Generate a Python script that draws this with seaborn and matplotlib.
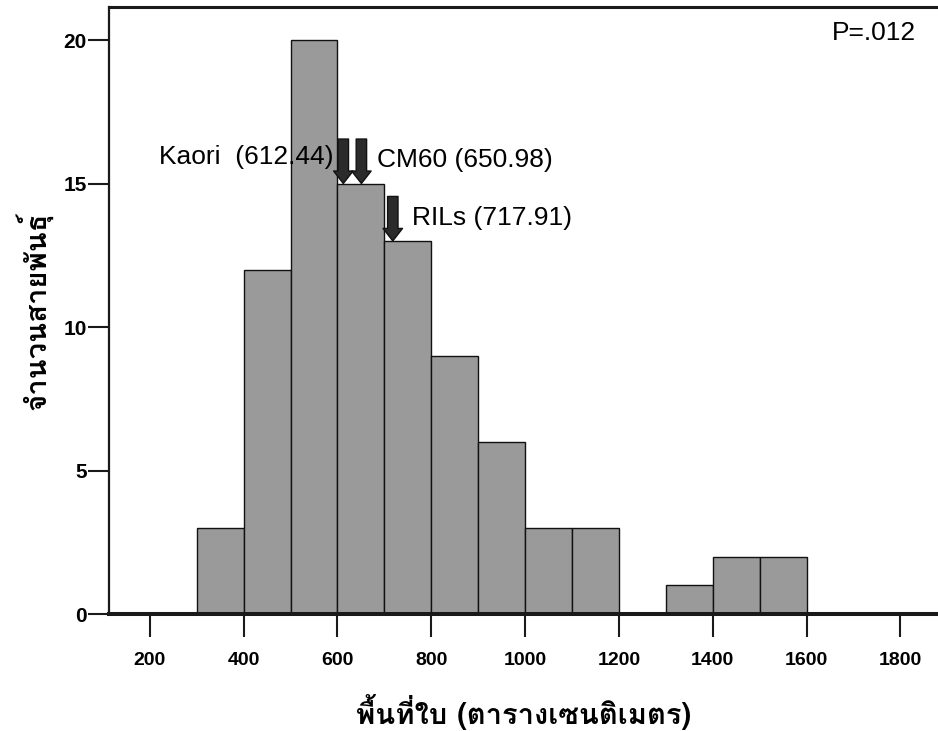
import numpy as np
import matplotlib
matplotlib.use("Agg")
import matplotlib.pyplot as plt
import seaborn as sns
from matplotlib import font_manager
from matplotlib.ft2font import FT2Font

# === Data ===
bin_edges = [300, 400, 500, 600, 700, 800, 900, 1000, 1100, 1200, 1300, 1400, 1500, 1600]
counts = [3, 12, 20, 15, 13, 9, 6, 3, 3, 0, 1, 2, 2]
strain_names = ["Kaori", "CM60", "RILs"]
strain_means = [612.44, 650.98, 717.91]
strain_bar_tops = [15, 15, 13]
x_ticks = [200, 400, 600, 800, 1000, 1200, 1400, 1600, 1800]
y_ticks = [0, 5, 10, 15, 20]
p_text = "P=.012"
x_label = "พื้นที่ใบ (ตารางเซนติเมตร)"
y_label = "จำนวนสายพันธุ์"

sns.set_style("white")
plt.rcParams['font.family'] = ['Liberation Sans', 'DejaVu Sans']
plt.rcParams['text.color'] = 'black'
plt.rcParams['axes.labelcolor'] = 'black'
plt.rcParams['xtick.color'] = '#1a1a1a'
plt.rcParams['ytick.color'] = '#1a1a1a'

# look for an installed font that has Thai glyphs
thai_family = None
for f in font_manager.fontManager.ttflist:
    try:
        if 0x0E1E in FT2Font(f.fname).get_charmap():
            thai_family = f.name
            break
    except Exception:
        pass
label_family = [thai_family, 'DejaVu Sans'] if thai_family else ['DejaVu Sans']

fig = plt.figure(figsize=(9.38, 7.31), dpi=100)
ax = fig.add_axes([0.1162, 0.16, 0.8838, 0.8304])

centers = [(a + b) / 2 for a, b in zip(bin_edges[:-1], bin_edges[1:])]
sns.histplot(x=centers, weights=counts, bins=bin_edges, ax=ax,
             color="#9a9a9a", edgecolor="#111111", linewidth=1.0, alpha=1)

ax.set_xlim(113, 1880)
ax.set_ylim(0, 21.15)
ax.set_xticks(x_ticks)
ax.set_yticks(y_ticks)
ax.tick_params(axis='x', bottom=True, direction='out', length=16.5, width=1.5,
               labelsize=14, pad=11, labelcolor='black')
ax.tick_params(axis='y', left=True, direction='out', length=15, width=1.5,
               labelsize=15, pad=1, labelcolor='black')
for lab in ax.get_xticklabels() + ax.get_yticklabels():
    lab.set_fontweight('bold')

for side, lw in [('left', 1.6), ('top', 2.2), ('bottom', 2.9)]:
    ax.spines[side].set_visible(True)
    ax.spines[side].set_linewidth(lw)
    ax.spines[side].set_color('#1a1a1a')
ax.spines['right'].set_visible(False)

# arrows marking the parents and the RIL mean
arrow_len = 1.55
for name, val, top in zip(strain_names, strain_means, strain_bar_tops):
    ax.annotate('', xy=(val, top), xytext=(val, top + arrow_len),
                arrowprops=dict(arrowstyle='simple,head_width=1.4,head_length=0.9,tail_width=0.75',
                                mutation_scale=10, fc='#2b2b2b', ec='#111111', lw=1,
                                shrinkA=0, shrinkB=0))

ax.text(strain_means[0] - 20, strain_bar_tops[0] + 0.92, f"{strain_names[0]}  ({strain_means[0]:.2f})",
        ha='right', va='center', fontsize=19)
ax.text(strain_means[1] + 34, strain_bar_tops[1] + 0.82, f"{strain_names[1]} ({strain_means[1]:.2f})",
        ha='left', va='center', fontsize=19)
ax.text(strain_means[2] + 42, strain_bar_tops[2] + 0.8, f"{strain_names[2]} ({strain_means[2]:.2f})",
        ha='left', va='center', fontsize=19)
ax.text(0.923, 0.958, p_text, transform=ax.transAxes, ha='center', va='center', fontsize=19)

ax.set_xlabel(x_label, family=label_family, fontsize=21, fontweight='bold', labelpad=18)
ax.set_ylabel(y_label, family=label_family, fontsize=21, fontweight='bold', labelpad=8)

fig.savefig("out.png", dpi=100)
